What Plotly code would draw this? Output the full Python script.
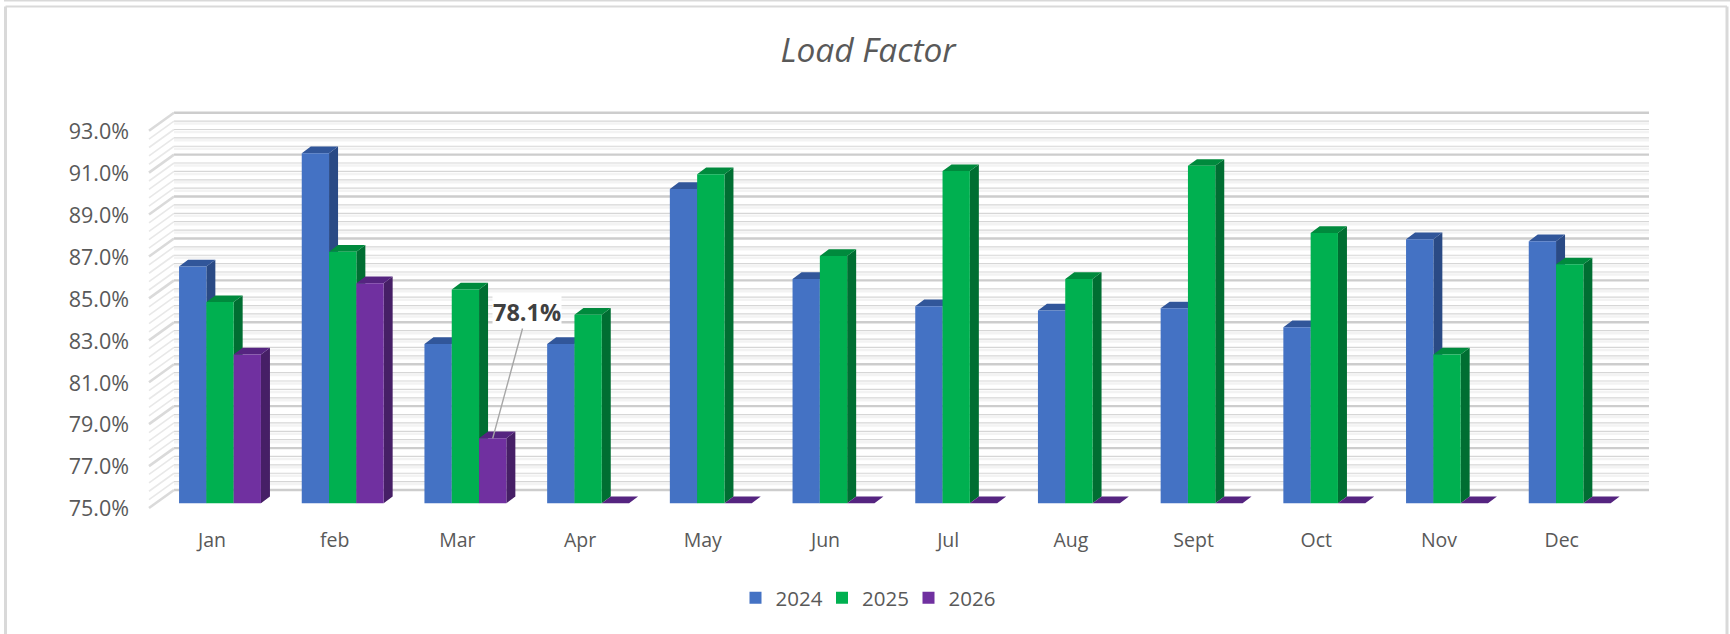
import plotly.graph_objects as go

months = ["Jan", "feb", "Mar", "Apr", "May", "Jun", "Jul", "Aug", "Sept", "Oct", "Nov", "Dec"]
y2024 = [86.3, 91.7, 82.6, 82.6, 90.0, 85.7, 84.4, 84.2, 84.3, 83.4, 87.6, 87.5]
y2025 = [84.6, 87.0, 85.2, 84.0, 90.7, 86.8, 90.85, 85.7, 91.1, 87.9, 82.1, 86.4]
y2026 = [82.1, 85.5, 78.1, None, None, None, None, None, None, None, None, None]
years = ["2024", "2025", "2026"]
y_ticks = [75, 77, 79, 81, 83, 85, 87, 89, 91, 93]
FLOOR = 75

W, H = 1730, 634
PX_PER_CAT = 122.7
PX_PER_PT = 20.96
CAT0_PX = 220.0
BASE_PX = 503.3
L_PX, R_PX, T_PX, B_PX = 130.0, 1700.0, 100.0, 526.0


def u(px):
    return (px - CAT0_PX) / PX_PER_CAT


def v(py):
    return FLOOR + (BASE_PX - py) / PX_PER_PT


BAR_W = 27.3 / PX_PER_CAT
DX = 9.0 / PX_PER_CAT
DY = 6.7 / PX_PER_PT
WALL_DY = 13.3 / PX_PER_PT
SIDE_DY = 18.0 / PX_PER_PT
WALL_L = u(174)
WALL_R = u(1649)
FRONT_L = u(149)

fig = go.Figure()


def seg_trace(xs, ys, color, width):
    fig.add_trace(go.Scatter(x=xs, y=ys, mode="lines", line=dict(color=color, width=width),
                             hoverinfo="skip", showlegend=False, zorder=0, connectgaps=False))


levels = [FLOOR + 0.4 * i for i in range(46)]
minor = [l for i, l in enumerate(levels) if i % 5 != 0]
major = [l for i, l in enumerate(levels) if i % 5 == 0]


def wall(ls, shift=0.0):
    xs, ys = [], []
    for l in ls:
        xs += [WALL_L, WALL_R, None]
        ys += [l + WALL_DY + shift, l + WALL_DY + shift, None]
    return xs, ys


def side(ls):
    xs, ys = [], []
    for l in ls:
        xs += [FRONT_L, WALL_L, None]
        ys += [l + WALL_DY - SIDE_DY, l + WALL_DY, None]
    return xs, ys


seg_trace(*wall(minor, -2.5 / PX_PER_PT), "#f3f3f3", 2.5)
seg_trace(*wall(minor), "#d6d6d6", 1.2)
seg_trace(*wall(major), "#cdcdcd", 2.4)
seg_trace(*side(minor), "#e8e8e8", 1.6)
seg_trace(*side(major), "#dadada", 2.6)

series = [y2024, y2025, y2026]
front = ["#4472C4", "#00B050", "#7030A0"]
top = ["#31569A", "#008A3D", "#552480"]
dark = ["#2A4A85", "#006E32", "#461F66"]
x_pos = list(range(len(months)))

for s, (vals, name) in enumerate(zip(series, years)):
    off = (s - 1.5) * BAR_W
    sx, sy, tx, ty = [], [], [], []
    for i, val in zip(x_pos, vals):
        h = FLOOR if val is None else val
        x0, x1 = i + off, i + off + BAR_W
        sx += [x1, x1 + DX, x1 + DX, x1, x1, None]
        sy += [FLOOR, FLOOR + DY, h + DY, h, FLOOR, None]
        tx += [x0, x0 + DX, x1 + DX, x1, x0, None]
        ty += [h, h + DY, h + DY, h, h, None]
    z = 1 + s * 3
    fig.add_trace(go.Scatter(x=sx, y=sy, mode="lines", fill="toself", fillcolor=dark[s],
                             line=dict(width=0, color=dark[s]), hoverinfo="skip",
                             showlegend=False, zorder=z))
    fig.add_trace(go.Scatter(x=tx, y=ty, mode="lines", fill="toself", fillcolor=top[s],
                             line=dict(width=0, color=top[s]), hoverinfo="skip",
                             showlegend=False, zorder=z + 1))
    fig.add_trace(go.Bar(x=x_pos, y=[None if a is None else a - FLOOR for a in vals], base=FLOOR,
                         name=name, width=BAR_W, offset=off, marker=dict(color=front[s], line=dict(width=0)),
                         zorder=z + 2))

mar = months.index("Mar")
fig.add_annotation(x=mar + BAR_W, y=y2026[mar], xref="x", yref="y",
                   ax=u(527), ay=v(312), axref="x", ayref="y",
                   text="<b>78.1%</b>", showarrow=True, arrowhead=0, arrowwidth=1.4,
                   arrowcolor="#a6a6a6", bgcolor="white", borderpad=0,
                   font=dict(family="Open Sans", size=23.5, color="#404040"))

frame = "#d9d9d9"
shapes = []
for x0, y0, x1, y1, wd in [(5.5, 6.5, 5.5, H, 3), (5.5, 6.5, 1727, 6.5, 2), (1727, 6.5, 1727, H, 3), (4, 0.5, W, 0.5, 2)]:
    shapes.append(dict(type="line", xref="paper", yref="paper", x0=x0 / W, x1=x1 / W,
                       y0=1 - y0 / H, y1=1 - y1 / H, line=dict(color=frame, width=wd)))

fig.update_layout(
    width=W, height=H,
    margin=dict(l=0, r=0, t=0, b=0),
    paper_bgcolor="white", plot_bgcolor="rgba(0,0,0,0)",
    barmode="overlay",
    font=dict(family="Open Sans", color="#595959", size=20),
    title=dict(text="<i>Load Factor</i>", x=868 / W, xanchor="center", y=1 - 50 / H, yanchor="middle",
               font=dict(family="Open Sans", size=33.5, color="#595959")),
    showlegend=True,
    legend=dict(orientation="h", x=735.5 / W, xanchor="left", y=1 - 598 / H, yanchor="middle",
                entrywidth=41.5, entrywidthmode="pixels", font=dict(size=20.5, color="#595959"),
                bgcolor="rgba(0,0,0,0)"),
    shapes=shapes,
    xaxis=dict(domain=[L_PX / W, R_PX / W], range=[u(L_PX), u(R_PX)], showgrid=False, zeroline=False,
               showline=False, ticks="", tickmode="array", tickvals=[i - 8 / PX_PER_CAT for i in x_pos],
               ticktext=months, tickfont=dict(size=19.5, color="#595959")),
    yaxis=dict(domain=[1 - B_PX / H, 1 - T_PX / H], range=[v(B_PX), v(T_PX)], showgrid=False, zeroline=False,
               showline=False, ticks="", tickmode="array", tickvals=[t - 5.5 / PX_PER_PT for t in y_ticks],
               ticktext=[f"{t:.1f}%" for t in y_ticks], tickfont=dict(size=21.5, color="#595959")),
)

fig.write_html("out.html", config=dict(displayModeBar=False),
               post_script="document.body.style.margin='0';document.documentElement.style.overflow='hidden';")
